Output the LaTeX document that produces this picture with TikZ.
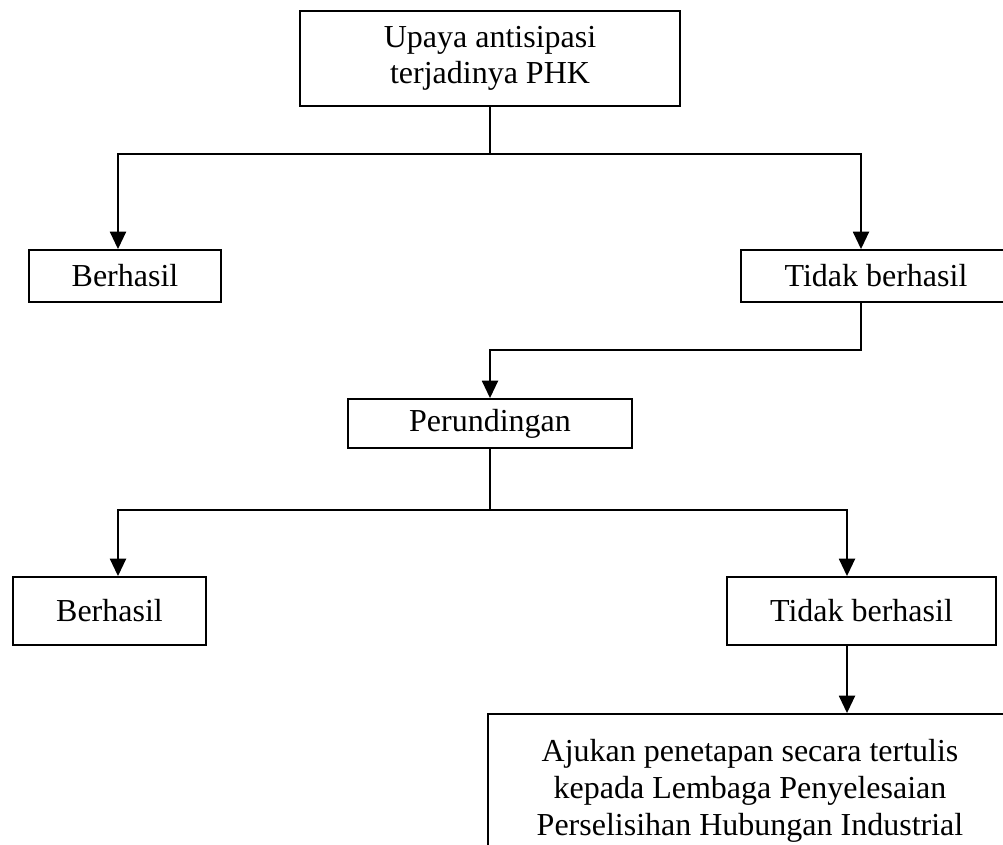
\documentclass[tikz,border=0pt]{standalone}
\usepackage{fontspec}
\setmainfont{Liberation Serif}
\usetikzlibrary{positioning}
\usetikzlibrary{arrows.meta}

\begin{document}
\begin{tikzpicture}[
    x = 0.75pt,
    y = -0.75pt,
    line width = 1.4pt,
    font = \fontsize{24}{27.5}\selectfont,
    ]

    \tikzstyle{box}=[
    draw = black,
    line width = 1.4pt,
    fill = white,
    align = center,
    inner sep = 0pt,
    ]
    \tikzstyle{arr}=[
    -{Triangle[length=13pt, width=12pt]},
    ]

    \useasboundingbox (0,0) rectangle (1003,844);
    \clip (0,0) rectangle (1003,844);

    \node[box, minimum width=285pt, minimum height=71.25pt] (upaya) at (490,58.5) {Upaya antisipasi\\terjadinya PHK};
    \node[box, minimum width=144pt, minimum height=39pt] (berhasil1) at (125,276) {Berhasil};
    \node[box, minimum width=202.5pt, minimum height=39pt] (tidak1) at (876,276) {Tidak berhasil};
    \node[box, minimum width=213pt, minimum height=36.75pt] (runding) at (490,423.5) {Perundingan};
    \node[box, minimum width=144.75pt, minimum height=51pt] (berhasil2) at (109.5,611) {Berhasil};
    \node[box, minimum width=201.75pt, minimum height=51pt] (tidak2) at (861.5,611) {Tidak berhasil};
    \node[box, minimum width=393pt, minimum height=115.5pt] (ajukan) at (750,791) {Ajukan penetapan secara tertulis\\kepada Lembaga Penyelesaian\\Perselisihan Hubungan Industrial};

    % branch points
    \coordinate (j1) at (490,154);
    \coordinate (j1l) at (118,154);
    \coordinate (j1r) at (861,154);
    \coordinate (j2) at (861,350);
    \coordinate (j3) at (490,510);
    \coordinate (j3l) at (118,510);
    \coordinate (j3r) at (847,510);

    \draw (upaya.south) -- (j1);
    \draw[arr] (j1) -- (j1l) -- (j1l |- berhasil1.north);
    \draw[arr] (j1) -- (j1r) -- (j1r |- tidak1.north);
    \draw[arr] (j2 |- tidak1.south) -- (j2) -| (runding.north);
    \draw (runding.south) -- (j3);
    \draw[arr] (j3) -- (j3l) -- (j3l |- berhasil2.north);
    \draw[arr] (j3) -- (j3r) -- (j3r |- tidak2.north);
    \draw[arr] (j3r |- tidak2.south) -- (j3r |- ajukan.north);
  \end{tikzpicture}
\end{document}
